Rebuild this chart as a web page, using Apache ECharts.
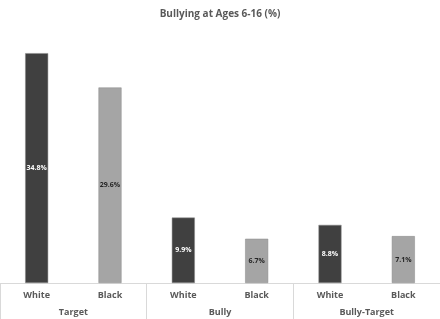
<!DOCTYPE html>
<html>
<head>
<meta charset="utf-8">
<script src="https://cdn.jsdelivr.net/npm/echarts@6/dist/echarts.min.js"></script>
<style>
html,body{margin:0;padding:0;background:#fff;}
#chart{width:440px;height:319px;}
</style>
</head>
<body>
<div id="chart"></div>
<script>
// 数据
const races = ["White", "Black", "White", "Black", "White", "Black"];
const groups = ["Target", "Bully", "Bully-Target"];
const values = [34.8, 29.6, 9.9, 6.7, 8.8, 7.1];

const raceColor = { White: "#404040", Black: "#a5a5a5" };
const labelColor = { White: "#ffffff", Black: "#262626" };

let myChart = echarts.init(document.getElementById("chart"));
let option = {
  backgroundColor: "#fff",
  animation: false,
  title: {
    text: "Bullying at Ages 6-16 (%)",
    left: "center",
    top: 4,
    textStyle: { fontFamily: "Open Sans", fontSize: 10, fontWeight: "bold", color: "#595959" }
  },
  grid: { left: 0, right: 0, top: 36, bottom: 36 },
  xAxis: [
    {
      type: "category",
      data: races,
      position: "bottom",
      axisLine: { show: true, lineStyle: { color: "#d9d9d9" } },
      axisTick: { show: false },
      axisLabel: { color: "#595959", fontFamily: "Open Sans", fontSize: 9, fontWeight: "bold", margin: 8 }
    },
    {
      type: "category",
      data: groups,
      position: "bottom",
      axisLine: { show: false },
      axisTick: { show: true, length: 36, alignWithLabel: false, lineStyle: { color: "#d9d9d9" } },
      axisLabel: { color: "#595959", fontFamily: "Open Sans", fontSize: 9, fontWeight: "bold", margin: 25 }
    }
  ],
  yAxis: {
    type: "value",
    min: 0,
    max: 37.4,
    show: false
  },
  series: [
    {
      type: "bar",
      xAxisIndex: 0,
      barWidth: 23,
      data: values.map((v, i) => ({
        value: v,
        itemStyle: { color: raceColor[races[i]], borderColor: "#888", borderWidth: 0.5 },
        label: { color: labelColor[races[i]] }
      })),
      label: {
        show: true,
        position: "inside",
        fontFamily: "Open Sans",
        fontSize: 7,
        fontWeight: "bold",
        formatter: p => p.value.toFixed(1) + "%"
      }
    }
  ]
};
myChart.setOption(option);
</script>
</body>
</html>
